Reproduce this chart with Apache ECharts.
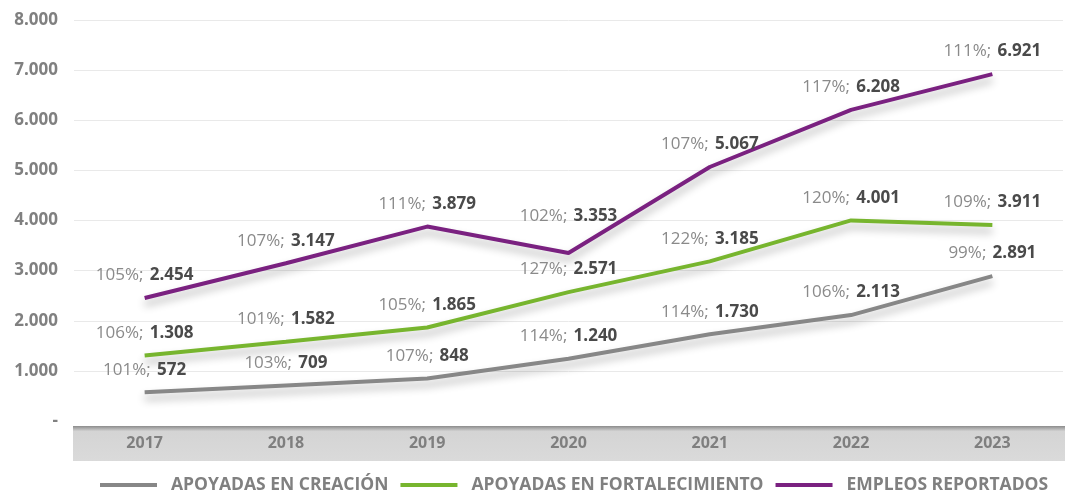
<!DOCTYPE html>
<html>
<head>
<meta charset="utf-8">
<script src="https://cdn.jsdelivr.net/npm/echarts@6/dist/echarts.min.js"></script>
<style>
  html, body { margin: 0; padding: 0; background: #fff; }
  #chart { width: 1065px; height: 499px; }
</style>
</head>
<body>
<div id="chart"></div>
<script>
// datos
const anios = ['2017', '2018', '2019', '2020', '2021', '2022', '2023']

const creacion = [572, 709, 848, 1240, 1730, 2113, 2891]
const creacionPct = [101, 103, 107, 114, 114, 106, 99]

const fortalecimiento = [1308, 1582, 1865, 2571, 3185, 4001, 3911]
const fortalecimientoPct = [106, 101, 105, 127, 122, 120, 109]

const empleos = [2454, 3147, 3879, 3353, 5067, 6208, 6921]
const empleosPct = [105, 107, 111, 102, 107, 117, 111]

const fuente = '"Open Sans", "Noto Sans", sans-serif'

function miles(v) {
    return String(v).replace(/\B(?=(\d{3})+(?!\d))/g, '.')
}

function etiqueta(pcts) {
    return {
        show: true,
        position: 'top',
        distance: 14,
        fontFamily: fuente,
        formatter: (p) => '{p|' + pcts[p.dataIndex] + '%;}  {v|' + miles(p.value) + '}',
        rich: {
            p: { color: '#8a8a8a', fontSize: 17, fontFamily: fuente },
            v: { color: '#4a4a4a', fontSize: 17, fontWeight: 'bold', fontFamily: fuente }
        }
    }
}

// subir algunas etiquetas que tapan la linea
function puntos(datos, subir) {
    return datos.map((v, i) => subir[i] ? { value: v, label: { offset: [0, -subir[i]] } } : v)
}

function serie(nombre, datos, pcts, color, subir) {
    return {
        name: nombre,
        type: 'line',
        data: puntos(datos, subir || {}),
        symbol: 'circle',
        symbolSize: 0.1,
        lineStyle: {
            width: 4,
            color: color,
            shadowColor: 'rgba(0,0,0,0.3)',
            shadowBlur: 8,
            shadowOffsetY: 6
        },
        itemStyle: { color: color },
        label: etiqueta(pcts),
        emphasis: { disabled: true }
    }
}

const chartDiv = document.getElementById('chart')
const myChart = echarts.init(chartDiv)

myChart.setOption({
    animation: false,
    grid: { left: 74, right: 2, top: 20, bottom: 78 },
    graphic: [
        {
            type: 'rect',
            z: 0,
            shape: { x: 73, y: 426, width: 992, height: 35 },
            style: {
                fill: new echarts.graphic.LinearGradient(0, 0, 0, 1, [
                    { offset: 0, color: '#8c8c8c' },
                    { offset: 0.15, color: '#d4d4d4' },
                    { offset: 1, color: '#dadada' }
                ])
            }
        }
    ],
    legend: {
        left: 95,
        bottom: 0,
        itemWidth: 57,
        itemHeight: 4,
        itemGap: 12,
        icon: 'rect',
        textStyle: {
            color: '#808080', fontSize: 17.5, fontWeight: 'bold', fontFamily: fuente,
            padding: [0, 0, 0, 9]
        },
        data: ['APOYADAS EN CREACIÓN', 'APOYADAS EN FORTALECIMIENTO', 'EMPLEOS REPORTADOS']
    },
    xAxis: {
        type: 'category',
        data: anios,
        axisLine: { show: false },
        axisTick: { show: false },
        axisLabel: {
            margin: 14,
            color: '#7f7f7f',
            fontSize: 16,
            fontWeight: 'bold',
            fontFamily: fuente
        },
        z: 5
    },
    yAxis: {
        type: 'value',
        min: 0,
        max: 8000,
        interval: 1000,
        axisLabel: {
            margin: 16,
            color: '#808080',
            fontSize: 17,
            fontWeight: 'bold',
            fontFamily: fuente,
            formatter: (v) => v === 0 ? '-' : miles(v)
        },
        splitLine: {
            lineStyle: {
                color: ['rgba(0,0,0,0)', '#e9e9e9', '#e9e9e9', '#e9e9e9', '#e9e9e9', '#e9e9e9', '#e9e9e9', '#e9e9e9', '#e9e9e9']
            }
        }
    },
    series: [
        serie('APOYADAS EN CREACIÓN', creacion, creacionPct, '#878787'),
        serie('APOYADAS EN FORTALECIMIENTO', fortalecimiento, fortalecimientoPct, '#77b52e'),
        serie('EMPLEOS REPORTADOS', empleos, empleosPct, '#7a2180', { 3: 14 })
    ]
})
</script>
</body>
</html>
